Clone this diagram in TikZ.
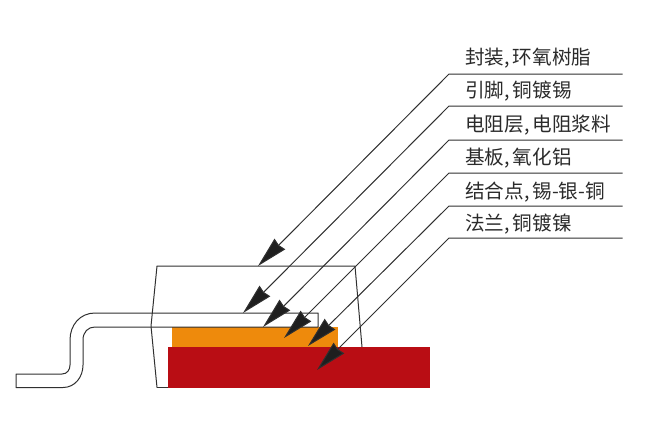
\documentclass[tikz,border=0pt]{standalone}
\usepackage{fontspec}
\newfontfamily\cjk{Noto Sans CJK SC}
\usetikzlibrary{arrows.meta}
\definecolor{redbase}{HTML}{B90D14}
\definecolor{orangelayer}{HTML}{EE8A0C}
\definecolor{inkline}{HTML}{303030}
\definecolor{inktext}{HTML}{2A2A2A}
\tikzset{
  x=1pt,y=-1pt,
  outline/.style={draw=inkline,line width=1pt,line join=round},
  leader/.style={draw=inkline,line width=1pt,-{Stealth[length=31pt,width=15pt,inset=1.5pt,fill=black!88]}},
  label/.style={font=\cjk\fontsize{19.6}{22}\selectfont,text=inktext,anchor=west,inner sep=0pt},
}
\newcommand{\cm}{,\hspace{3pt}}
\begin{document}
\begin{tikzpicture}
\useasboundingbox (0,0) rectangle (655,436);
% package outline
\draw[outline] (157,387.5) -- (151,326) -- (157,266) -- (355,266) -- (362,347);
\draw[outline] (157,387.5) -- (168,387.5);
% flange and resistor layer
\fill[redbase] (168,347) rectangle (430,388);
\fill[orangelayer] (172,327) rectangle (338,347);
% lead
\draw[outline] (318,327) -- (318,313) -- (95,313)
  .. controls (80,313) and (70,325) .. (70,340) -- (70,365)
  .. controls (70,370) and (67,374) .. (62,374) -- (16,374) -- (16,387.5) -- (63,387.5)
  .. controls (75,387.5) and (83,377) .. (83,365) -- (83,340)
  .. controls (83,332) and (88,327) .. (95,327) -- (318,327);
% shelf coordinates
\foreach \n/\y in {1/74,2/106,3/140,4/173,5/206,6/238}{
  \coordinate (e\n) at (622.5,\y);
  \coordinate (k\n) at (449,\y);
}
\coordinate (t1) at (258,266);
\coordinate (t2) at (243,313);
\coordinate (t3) at (263,327);
\coordinate (t4) at (284,338);
\coordinate (t5) at (308,346);
\coordinate (t6) at (317,370);
\foreach \n in {1,...,6}{
  \draw[leader] (e\n) -- (k\n) -- (t\n);
}
% labels
\node[label] (l1) at (465,58) {封装\cm 环氧树脂};
\node[label] (l2) at (465,91) {引脚\cm 铜镀锡};
\node[label] (l3) at (465,125) {电阻层\cm 电阻浆料};
\node[label] (l4) at (465,158) {基板\cm 氧化铝};
\node[label] (l5) at (465,192) {结合点\cm 锡-银-铜};
\node[label] (l6) at (465,224) {法兰\cm 铜镀镍};
\end{tikzpicture}
\end{document}
